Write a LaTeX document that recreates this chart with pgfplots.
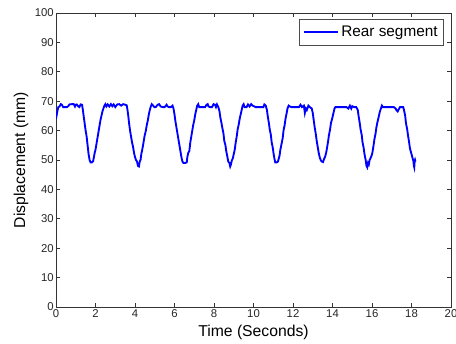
\documentclass[border=0pt]{standalone}
\usepackage{fontspec}
\setmainfont{Liberation Sans}
\usepackage{pgfplots}
\pgfplotsset{compat=1.18}
\begin{document}
\begin{tikzpicture}
\begin{axis}[
  name=ax,
  scale only axis,
  width=296.25pt, height=220.5pt,
  xmin=0, xmax=20, ymin=0, ymax=100,
  xtick={0,2,...,20}, ytick={0,10,...,100},
  /pgf/number format/assume math mode=true,
  ticklabel style={font=\fontsize{8.5}{10}\selectfont, text=black!85, inner sep=1.5pt},
  major tick length=3pt,
  tick style={black!80, line width=0.5pt},
  axis line style={black!80, line width=0.6pt},
  xlabel={Time (Seconds)},
  ylabel={Displacement (mm)},
  label style={font=\fontsize{11.8}{13}\selectfont},
  xlabel style={at={(axis description cs:0.5,-0.085)}, anchor=center},
  ylabel style={at={(axis description cs:-0.0886,0.5)}, anchor=center},
  legend style={at={(axis description cs:0.982,0.980)}, anchor=north east,
    font=\fontsize{11.5}{13}\selectfont, draw=black!70, inner xsep=2.5pt, inner ysep=3pt,
    row sep=0pt, cells={anchor=west}},
  legend image code/.code={\draw[#1] (0pt,0pt) -- (25.5pt,0pt);},
]
\addplot[blue, line width=1.4pt] coordinates {
(0.00,64.0)(0.04,65.5)(0.08,67.0)(0.12,68.0)(0.18,68.2)(0.24,69.0)(0.30,68.8)(0.36,68.0)(0.45,68.0)(0.55,68.0)(0.62,68.3)(0.68,68.9)(0.80,69.0)(0.90,69.0)(0.96,68.2)(1.00,68.8)(1.05,68.9)(1.12,68.3)(1.18,68.0)(1.25,68.9)(1.32,68.8)(1.36,67.0)(1.40,65.0)(1.45,62.5)(1.50,60.0)(1.55,58.0)(1.60,55.0)(1.65,52.0)(1.70,50.0)(1.75,49.2)(1.82,49.2)(1.88,49.6)(1.92,51.0)(1.96,52.5)(2.00,53.5)(2.05,55.5)(2.10,57.5)(2.15,59.5)(2.20,61.5)(2.25,63.5)(2.30,65.0)(2.35,66.5)(2.40,67.5)(2.45,68.5)(2.50,69.0)(2.55,68.2)(2.62,68.9)(2.70,68.2)(2.78,69.0)(2.85,68.3)(2.92,68.9)(3.00,68.0)(3.10,68.9)(3.20,69.0)(3.30,68.5)(3.40,69.0)(3.50,68.8)(3.58,68.6)(3.62,67.0)(3.66,65.0)(3.70,62.5)(3.75,60.0)(3.80,58.0)(3.85,56.0)(3.90,54.5)(3.95,52.5)(4.00,51.0)(4.05,50.0)(4.10,49.5)(4.15,48.0)(4.20,47.8)(4.24,49.5)(4.28,50.0)(4.32,52.0)(4.38,54.0)(4.42,55.5)(4.48,58.0)(4.55,60.0)(4.60,62.0)(4.65,63.5)(4.70,65.5)(4.75,67.0)(4.80,68.2)(4.85,69.0)(4.92,68.5)(4.98,68.0)(5.05,68.0)(5.15,68.8)(5.22,69.0)(5.30,68.2)(5.40,68.0)(5.50,68.0)(5.60,68.8)(5.65,68.2)(5.72,68.0)(5.82,68.0)(5.90,68.5)(5.95,67.5)(6.00,65.5)(6.05,63.0)(6.10,61.0)(6.15,59.0)(6.20,57.0)(6.25,55.0)(6.30,53.0)(6.35,51.0)(6.40,49.5)(6.45,49.0)(6.55,49.0)(6.62,49.2)(6.65,51.0)(6.70,52.5)(6.75,53.0)(6.80,56.0)(6.85,58.0)(6.90,60.0)(6.95,62.0)(7.00,63.5)(7.05,65.5)(7.10,67.0)(7.15,68.5)(7.20,69.0)(7.25,68.0)(7.35,68.0)(7.45,68.0)(7.55,68.0)(7.62,68.8)(7.68,69.0)(7.72,68.2)(7.80,68.0)(7.90,68.0)(7.98,69.0)(8.05,68.8)(8.10,68.0)(8.15,68.9)(8.22,68.0)(8.28,66.5)(8.32,64.5)(8.38,62.5)(8.42,61.0)(8.48,59.0)(8.52,56.5)(8.58,55.0)(8.62,53.0)(8.68,51.0)(8.72,49.5)(8.78,49.0)(8.82,47.8)(8.86,48.5)(8.90,49.8)(8.95,50.5)(9.00,52.0)(9.05,53.5)(9.10,56.0)(9.15,58.0)(9.20,60.5)(9.25,62.0)(9.30,64.0)(9.35,65.5)(9.40,67.0)(9.45,68.5)(9.50,69.0)(9.55,68.0)(9.65,68.0)(9.72,68.9)(9.80,68.2)(9.88,69.0)(9.95,68.5)(10.02,68.3)(10.10,68.0)(10.20,68.0)(10.30,68.0)(10.40,68.0)(10.50,68.0)(10.55,68.9)(10.62,68.5)(10.68,67.0)(10.72,65.0)(10.78,62.5)(10.82,60.5)(10.88,58.5)(10.92,56.0)(10.98,54.0)(11.02,52.0)(11.06,50.5)(11.10,49.2)(11.18,49.2)(11.24,49.5)(11.28,50.5)(11.32,51.5)(11.36,53.5)(11.42,55.5)(11.48,57.5)(11.52,60.0)(11.58,62.0)(11.62,64.0)(11.68,66.0)(11.72,67.5)(11.78,68.5)(11.85,68.2)(11.92,68.0)(12.00,68.0)(12.10,68.0)(12.20,68.0)(12.30,68.0)(12.38,68.8)(12.45,68.0)(12.55,68.5)(12.60,66.0)(12.65,67.5)(12.70,67.0)(12.78,68.5)(12.85,68.0)(12.95,67.5)(13.00,66.0)(13.05,63.5)(13.10,61.0)(13.15,59.0)(13.20,56.5)(13.25,54.5)(13.30,52.5)(13.35,51.0)(13.40,50.0)(13.45,49.5)(13.52,49.3)(13.58,50.5)(13.62,51.0)(13.68,52.5)(13.72,54.0)(13.78,56.5)(13.82,58.5)(13.88,60.5)(13.92,62.5)(13.98,64.0)(14.05,66.0)(14.10,67.5)(14.15,68.0)(14.25,68.0)(14.40,68.0)(14.55,68.0)(14.70,68.0)(14.80,67.5)(14.88,68.5)(14.95,67.5)(15.00,68.3)(15.10,68.0)(15.20,68.0)(15.28,67.0)(15.32,65.0)(15.38,62.5)(15.42,60.5)(15.48,58.5)(15.52,56.0)(15.58,54.0)(15.62,52.0)(15.68,50.0)(15.72,48.0)(15.76,47.5)(15.80,49.0)(15.84,48.5)(15.88,50.0)(15.92,50.5)(15.98,51.5)(16.02,52.5)(16.08,55.0)(16.12,57.0)(16.18,59.0)(16.22,61.0)(16.28,63.0)(16.35,65.0)(16.40,66.5)(16.45,67.5)(16.50,68.5)(16.55,68.0)(16.65,68.0)(16.80,68.0)(16.95,68.0)(17.10,68.0)(17.20,67.5)(17.25,66.8)(17.30,66.5)(17.35,67.2)(17.42,68.0)(17.50,68.0)(17.58,68.0)(17.62,67.0)(17.68,65.0)(17.72,62.5)(17.78,60.5)(17.82,58.5)(17.88,56.0)(17.92,54.0)(17.98,52.5)(18.02,51.5)(18.06,50.5)(18.10,49.5)(18.12,48.0)(18.14,47.5)(18.16,49.5)(18.18,50.0)(18.20,49.5)
};
\addlegendentry{Rear segment}
\end{axis}
\pgfresetboundingbox
\path[use as bounding box] ([shift={(-42pt,-27pt)}]ax.south west) rectangle ([shift={(3.75pt,9.75pt)}]ax.north east);
\end{tikzpicture}
\end{document}
